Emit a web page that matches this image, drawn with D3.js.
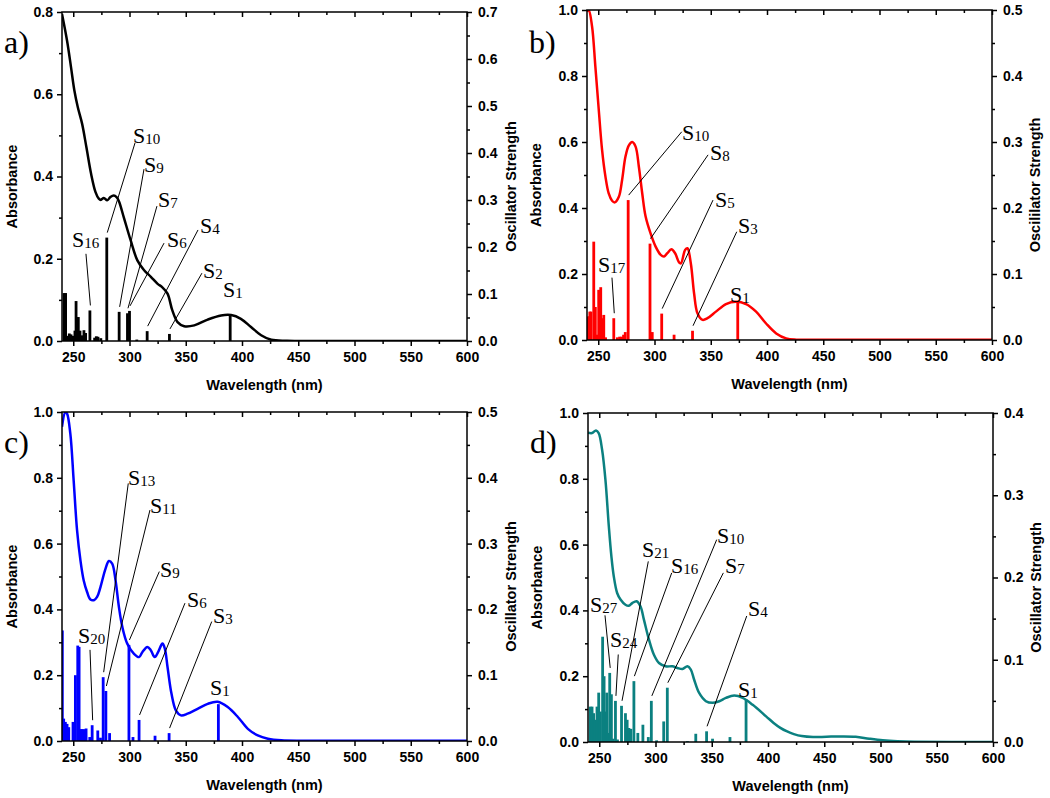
<!DOCTYPE html>
<html><head><meta charset="utf-8">
<script src="https://cdn.jsdelivr.net/npm/d3@7"></script>
<style>body{margin:0;background:#fff} svg{display:block}</style>
</head><body><svg id="c" width="1050" height="798"></svg>
<script>
// ---------- DATA ----------
const wavelengthTicks = [250, 300, 350, 400, 450, 500, 550, 600];
const wavelengthMinor = [275, 325, 375, 425, 475, 525, 575];
const panelNames = ["a)", "b)", "c)", "d)"];
const colors = ["#000000", "#ff0000", "#0000ff", "#0b8080"];
const absMax = [0.8, 1.0, 1.0, 1.0];
const oscMax = [0.7, 0.5, 0.5, 0.4];
const rightTitles = ["Oscillator Strength", "Oscililator Strength", "Oscillator Strength", "Oscillator Strength"];

// absorbance curves [wavelength nm, absorbance]
const curveA = [[240,0.795],[244.5,0.73],[248,0.666],[251,0.609],[254,0.569],[257.9,0.528],[261.7,0.471],[265.9,0.406],[269.8,0.362],[272.7,0.346],[274.5,0.343],[277.2,0.348],[280.2,0.342],[283,0.35],[286,0.354],[288.5,0.35],[290.6,0.34],[295,0.30],[301,0.245],[307,0.196],[313,0.172],[319,0.156],[325,0.139],[329,0.131],[333.8,0.115],[338,0.075],[342.7,0.046],[348.6,0.036],[357.6,0.038],[369.5,0.052],[381.4,0.062],[390.3,0.063],[399,0.054],[408,0.034],[417,0.014],[426,0.003],[440,0.0005],[470,0],[600,0]];
const curveB = [[240,0.995],[241.5,1.0],[244.5,0.95],[247.4,0.83],[250.4,0.70],[253.4,0.576],[256.4,0.495],[259.3,0.444],[262.3,0.422],[264.7,0.417],[268.3,0.434],[271.2,0.485],[274.2,0.556],[277.2,0.59],[280.2,0.60],[283.2,0.586],[286.1,0.525],[289.1,0.444],[292.1,0.374],[296.5,0.323],[301,0.283],[305.5,0.258],[308.5,0.253],[311.4,0.263],[315,0.275],[318.3,0.263],[321.8,0.235],[323.5,0.232],[327.2,0.273],[329.3,0.278],[332.3,0.232],[335.2,0.141],[338.2,0.081],[342.7,0.061],[347.1,0.066],[354.6,0.086],[363.5,0.109],[372.4,0.116],[381.4,0.109],[390.3,0.086],[399.2,0.05],[408.2,0.02],[417,0.005],[426,0.001],[450,0.001],[600,0.001]];
const curveC = [[240,0.955],[243,1.0],[244.5,0.995],[247.4,0.934],[250.4,0.79],[253.4,0.64],[256.4,0.549],[259.3,0.488],[262.3,0.453],[265.3,0.43],[268.3,0.428],[271.2,0.438],[274.2,0.468],[278.7,0.524],[281.7,0.547],[284.6,0.539],[287.6,0.488],[290.6,0.407],[293.6,0.347],[298,0.296],[304,0.265],[308.5,0.255],[311.4,0.27],[315.9,0.286],[318.9,0.276],[322.4,0.255],[325.4,0.27],[329.3,0.296],[331.4,0.281],[333.8,0.225],[337.3,0.144],[341.2,0.093],[345.7,0.078],[351.6,0.083],[360.5,0.098],[369.5,0.113],[378.4,0.119],[387.3,0.103],[396.3,0.073],[405.2,0.037],[414,0.017],[423,0.007],[435,0.002],[460,0.001],[600,0.001]];
const curveD = [[240,0.94],[243.6,0.939],[247.1,0.947],[249.5,0.939],[252.5,0.889],[255.5,0.797],[258.5,0.656],[260.8,0.564],[262.9,0.504],[265.9,0.453],[268.9,0.433],[273.3,0.417],[276.3,0.414],[279.3,0.422],[283.2,0.428],[286.7,0.412],[289.7,0.372],[294.2,0.311],[298.6,0.265],[303.1,0.24],[309,0.23],[315,0.23],[319.5,0.225],[324,0.222],[328.4,0.23],[331.4,0.22],[334.3,0.19],[338.8,0.149],[344.8,0.124],[350.7,0.119],[356.7,0.124],[362.6,0.134],[370,0.141],[377.5,0.134],[386.4,0.113],[398.3,0.078],[405,0.058],[411,0.043],[417,0.032],[423,0.024],[430,0.018],[440,0.015],[452,0.016],[465,0.017],[478,0.016],[490,0.01],[502,0.005],[515,0.002],[530,0.0005],[600,0]];

// oscillator strengths [wavelength nm, f]
const barsA = [[241.8,0.102],[243.2,0.102],[245,0.011],[246.5,0.016],[248,0.014],[250,0.011],[251.5,0.022],[252.5,0.085],[254.5,0.051],[256,0.022],[258,0.012],[259.5,0.023],[261,0.017],[264.8,0.065],[269,0.007],[270.5,0.01],[272,0.009],[274.5,0.006],[279.8,0.22],[290.8,0.062],[298.2,0.059],[300,0.064],[306.5,0.003],[315.7,0.021],[335.5,0.015],[389.5,0.054]];
const barsB = [[240.5,0.035],[241.5,0.036],[242.5,0.043],[243.5,0.043],[246,0.149],[247.4,0.05],[249,0.008],[250.4,0.076],[252.2,0.08],[253.5,0.033],[254.9,0.038],[256.5,0.004],[263.8,0.033],[267,0.004],[269,0.005],[271,0.005],[272.5,0.008],[274,0.012],[276.6,0.212],[296,0.146],[298,0.012],[306.4,0.04],[317.4,0.008],[333.8,0.014],[374,0.058]];
const barsC = [[240.3,0.168],[241.5,0.034],[243,0.029],[244.5,0.026],[246,0.021],[249.8,0.029],[251.9,0.1],[254,0.145],[255.2,0.143],[256.4,0.018],[257.8,0.018],[259.3,0.018],[261.4,0.019],[264.7,0.006],[266.8,0.024],[271.8,0.016],[274.2,0.005],[276.6,0.097],[279,0.076],[282.3,0.012],[299.5,0.146],[303.1,0.006],[308.5,0.032],[322.7,0.008],[335.2,0.012],[379,0.056]];
const barsD = [[242,0.043],[243.6,0.043],[245,0.035],[246.5,0.027],[248,0.043],[249.5,0.06],[251,0.037],[253,0.128],[254.3,0.08],[255.5,0.037],[256.7,0.06],[257.9,0.011],[259.3,0.084],[260.8,0.058],[262,0.004],[264.4,0.05],[266.2,0.003],[269.8,0.044],[273.3,0.035],[274.8,0.027],[276.3,0.017],[278.1,0.016],[280.8,0.074],[284.3,0.011],[288.8,0.021],[293.6,0.006],[296.3,0.05],[301,0.002],[307.3,0.025],[310.5,0.066],[328.4,0.001],[335.8,0.01],[345.4,0.013],[350.7,0.004],[366.2,0.006],[380.5,0.052]];

// state labels: subscript, text anchor (nm, abs), leader start (nm, abs), target transition (nm)
const labelsA = [
  {s:"10", tx:303.1, ty:0.4815, ax:304.9, ay:0.4815, bar:279.8},
  {s:"9",  tx:312.9, ty:0.411, ax:312.9, ay:0.418, bar:290.8},
  {s:"7",  tx:325.3, ty:0.326, ax:324.4, ay:0.328, bar:298.2},
  {s:"6",  tx:333.3, ty:0.229, ax:330.7, ay:0.238, bar:300},
  {s:"4",  tx:362.7, ty:0.263, ax:360.9, ay:0.27, bar:315.7},
  {s:"2",  tx:365.3, ty:0.153, ax:364.4, ay:0.165, bar:335.5},
  {s:"16", tx:248.9, ty:0.229, ax:261.3, ay:0.212, bar:264.8},
  {s:"1",  tx:383.1, ty:0.107, ax:null}
];
const labelsB = [
  {s:"10", tx:324.4, ty:0.606, ax:324.2, ay:0.631, bar:276.6},
  {s:"8",  tx:349.3, ty:0.545, ax:347.6, ay:0.561, bar:296},
  {s:"5",  tx:353.8, ty:0.403, ax:352, ay:0.424, bar:306.4},
  {s:"3",  tx:374.2, ty:0.324, ax:373.1, ay:0.328, bar:333.8},
  {s:"17", tx:249.8, ty:0.206, ax:262.2, ay:0.189, bar:263.8},
  {s:"1",  tx:367.1, ty:0.115, ax:null}
];
const labelsC = [
  {s:"13", tx:298.7, ty:0.778, ax:298.9, ay:0.783, bar:276.6},
  {s:"11", tx:318.2, ty:0.693, ax:318.2, ay:0.702, bar:279},
  {s:"9",  tx:327.1, ty:0.498, ax:326.5, ay:0.515, bar:299.5},
  {s:"6",  tx:351.1, ty:0.407, ax:349.3, ay:0.419, bar:308.5},
  {s:"3",  tx:374.2, ty:0.359, ax:373.1, ay:0.363, bar:335.2},
  {s:"20", tx:254.2, ty:0.298, ax:264.9, ay:0.277, bar:266.8},
  {s:"1",  tx:371.6, ty:0.14, ax:null}
];
const labelsD = [
  {s:"27", tx:241.8, ty:0.394, ax:255.1, ay:0.385, bar:259.3},
  {s:"24", tx:259.6, ty:0.288, ax:266.9, ay:0.266, bar:264.4},
  {s:"21", tx:288, ty:0.561, ax:293.6, ay:0.549, bar:269.8},
  {s:"16", tx:313.8, ty:0.515, ax:314.4, ay:0.514, bar:280.8},
  {s:"10", tx:354.7, ty:0.606, ax:354.4, ay:0.615, bar:296.3},
  {s:"7",  tx:361.8, ty:0.515, ax:360.3, ay:0.514, bar:310.5},
  {s:"4",  tx:382.2, ty:0.382, ax:381.1, ay:0.383, bar:345.4},
  {s:"1",  tx:373.3, ty:0.136, ax:null}
];

const curves = [curveA, curveB, curveC, curveD];
const bars = [barsA, barsB, barsC, barsD];
const labels = [labelsA, labelsB, labelsC, labelsD];

// ---------- LAYOUT ----------
const layout = [
  {x0:62,  x1:467, y0:12,  y1:341, tag:[4,53],    absX:17,  oscX:516},
  {x0:587, x1:992, y0:10,  y1:340, tag:[529,53],  absX:541, oscX:1040},
  {x0:62,  x1:467, y0:412, y1:741, tag:[4,453],   absX:17,  oscX:516},
  {x0:588, x1:993, y0:413, y1:742, tag:[530,453], absX:542, oscX:1041}
];

const svg = d3.select("#c");
const sans = "'Liberation Sans', Arial, Helvetica, sans-serif";
const serif = "'Liberation Serif', 'Times New Roman', serif";

function range(a, b, step) { const r = []; for (let v = a; v <= b + 1e-9; v += step) r.push(+v.toFixed(3)); return r; }

layout.forEach((L, i) => {
  const g = svg.append("g");
  const x = d3.scaleLinear().domain([240, 600]).range([L.x0, L.x1]);
  const yL = d3.scaleLinear().domain([0, absMax[i]]).range([L.y1, L.y0]);
  const yR = d3.scaleLinear().domain([0, oscMax[i]]).range([L.y1, L.y0]);
  const col = colors[i];

  const clipId = "clip" + i;
  svg.append("clipPath").attr("id", clipId).append("rect")
    .attr("x", L.x0).attr("y", L.y0).attr("width", L.x1 - L.x0).attr("height", L.y1 - L.y0);

  // bars
  g.append("g").attr("clip-path", `url(#${clipId})`).selectAll("rect").data(bars[i]).join("rect")
    .attr("x", d => x(d[0]) - 1.4).attr("width", 2.8)
    .attr("y", d => yR(d[1])).attr("height", d => yR(0) - yR(d[1]))
    .attr("fill", col);

  // curve
  const line = d3.line().x(d => x(d[0])).y(d => yL(d[1])).curve(d3.curveCatmullRom.alpha(0.5));
  g.append("path").attr("clip-path", `url(#${clipId})`).datum(curves[i]).attr("d", line)
    .attr("fill", "none").attr("stroke", col).attr("stroke-width", 2.5).attr("stroke-linejoin", "round");

  // frame
  g.append("rect").attr("x", L.x0).attr("y", L.y0).attr("width", L.x1 - L.x0).attr("height", L.y1 - L.y0)
    .attr("fill", "none").attr("stroke", "#000").attr("stroke-width", 1.5);

  const styleAxis = sel => {
    sel.select(".domain").remove();
    sel.selectAll("line").attr("stroke", "#000").attr("stroke-width", 1.5);
    sel.selectAll("text").attr("font-family", sans).attr("font-weight", "bold").attr("font-size", 14).attr("fill", "#000");
  };

  // bottom axis
  g.append("g").attr("transform", `translate(0,${L.y1})`)
    .call(d3.axisBottom(x).tickValues(wavelengthTicks).tickSize(5).tickPadding(6).tickFormat(d3.format("d"))).call(styleAxis);
  g.append("g").attr("transform", `translate(0,${L.y1})`)
    .call(d3.axisBottom(x).tickValues(wavelengthMinor).tickSize(3).tickFormat("")).call(styleAxis);
  // top ticks (inward)
  g.append("g").attr("transform", `translate(0,${L.y0})`)
    .call(d3.axisTop(x).tickValues(wavelengthTicks).tickSize(-5).tickFormat("")).call(styleAxis);
  g.append("g").attr("transform", `translate(0,${L.y0})`)
    .call(d3.axisTop(x).tickValues(wavelengthMinor).tickSize(-3).tickFormat("")).call(styleAxis);

  // left axis
  const lMaj = range(0, absMax[i], 0.2);
  const lMin = range(0.1, absMax[i], 0.2);
  g.append("g").attr("transform", `translate(${L.x0},0)`)
    .call(d3.axisLeft(yL).tickValues(lMaj).tickSize(5).tickPadding(4).tickFormat(d3.format(".1f"))).call(styleAxis);
  g.append("g").attr("transform", `translate(${L.x0},0)`)
    .call(d3.axisLeft(yL).tickValues(lMin).tickSize(3).tickFormat("")).call(styleAxis);

  // right axis
  const rMaj = range(0, oscMax[i], 0.1);
  const rMin = range(0.05, oscMax[i], 0.1);
  g.append("g").attr("transform", `translate(${L.x1},0)`)
    .call(d3.axisRight(yR).tickValues(rMaj).tickSize(5).tickPadding(6).tickFormat(d3.format(".1f"))).call(styleAxis);
  g.append("g").attr("transform", `translate(${L.x1},0)`)
    .call(d3.axisRight(yR).tickValues(rMin).tickSize(3).tickFormat("")).call(styleAxis);

  // axis titles
  const cy = (L.y0 + L.y1) / 2 + 10;
  g.append("text").attr("x", (L.x0 + L.x1) / 2).attr("y", L.y1 + 49)
    .attr("text-anchor", "middle").attr("font-family", sans).attr("font-weight", "bold").attr("font-size", 14.5)
    .text("Wavelength (nm)");
  g.append("text").attr("transform", `translate(${L.absX},${cy}) rotate(-90)`)
    .attr("text-anchor", "middle").attr("font-family", sans).attr("font-weight", "bold").attr("font-size", 14.5)
    .text("Absorbance");
  g.append("text").attr("transform", `translate(${L.oscX},${cy}) rotate(-90)`)
    .attr("text-anchor", "middle").attr("font-family", sans).attr("font-weight", "bold").attr("font-size", 14.5)
    .text(rightTitles[i]);

  // panel tag
  g.append("text").attr("x", L.tag[0]).attr("y", L.tag[1]).attr("font-family", serif).attr("font-size", 32)
    .text(panelNames[i]);

  // state labels + leader lines
  const barMap = new Map(bars[i].map(d => [d[0], d[1]]));
  labels[i].forEach(lb => {
    if (lb.ax != null) {
      const f = barMap.get(lb.bar);
      g.append("line")
        .attr("x1", x(lb.ax)).attr("y1", yL(lb.ay))
        .attr("x2", x(lb.bar) + 0.5).attr("y2", yR(f) - 5)
        .attr("stroke", "#000").attr("stroke-width", 1);
    }
    const t = g.append("text").attr("x", x(lb.tx)).attr("y", yL(lb.ty))
      .attr("font-family", serif).attr("font-size", 22).attr("fill", "#000");
    t.append("tspan").text("S");
    t.append("tspan").attr("font-size", 15).attr("dy", 1).text(lb.s);
  });
});
</script></body></html>
